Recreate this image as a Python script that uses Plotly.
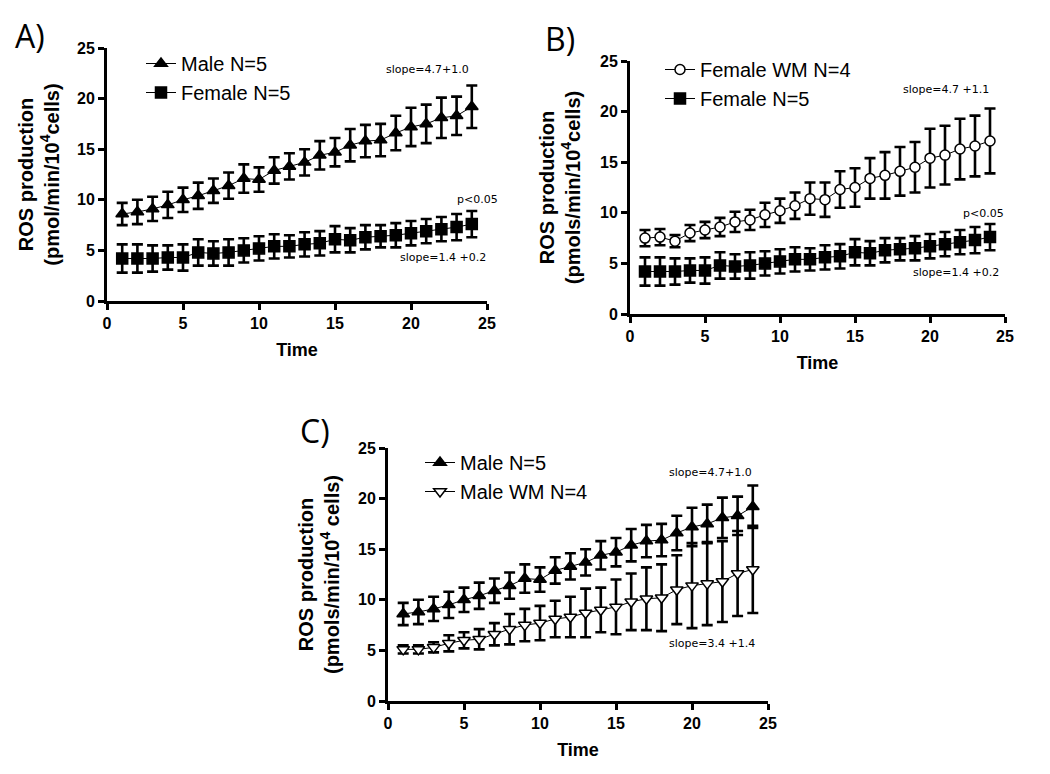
import plotly.graph_objects as go

time = list(range(1, 25))

male = [8.6, 8.8, 9.1, 9.5, 10.0, 10.4, 10.9, 11.4, 12.1, 12.0, 12.9, 13.3,
        13.7, 14.4, 14.7, 15.4, 15.8, 15.9, 16.6, 17.2, 17.5, 18.1, 18.3, 19.2]
male_err = [1.1, 1.2, 1.2, 1.3, 1.2, 1.3, 1.2, 1.3, 1.4, 1.2, 1.3, 1.3,
            1.3, 1.4, 1.4, 1.6, 1.6, 1.6, 1.7, 1.9, 1.9, 2.0, 1.9, 2.1]

female = [4.2, 4.2, 4.2, 4.3, 4.3, 4.8, 4.7, 4.8, 5.0, 5.2, 5.4, 5.4,
          5.6, 5.7, 6.1, 6.0, 6.3, 6.4, 6.5, 6.7, 6.9, 7.1, 7.3, 7.6]
female_err = [1.4, 1.4, 1.3, 1.2, 1.3, 1.3, 1.2, 1.3, 1.2, 1.2, 1.2, 1.1,
              1.2, 1.2, 1.3, 1.2, 1.2, 1.1, 1.2, 1.2, 1.2, 1.2, 1.3, 1.3]

female_wm = [7.5, 7.6, 7.2, 8.0, 8.3, 8.6, 9.1, 9.3, 9.8, 10.2, 10.7, 11.4,
             11.3, 12.3, 12.5, 13.4, 13.7, 14.1, 14.5, 15.4, 15.7, 16.3, 16.6, 17.1]
female_wm_err = [0.8, 0.8, 0.6, 0.8, 0.8, 0.9, 1.0, 1.0, 1.2, 1.2, 1.3, 1.6,
                 1.7, 1.8, 1.9, 2.0, 2.3, 2.4, 2.5, 2.9, 2.9, 3.0, 3.0, 3.2]

male_wm = [5.1, 5.1, 5.3, 5.7, 6.0, 6.1, 6.6, 7.1, 7.5, 7.7, 8.1, 8.3,
           8.7, 9.0, 9.3, 9.8, 10.1, 10.2, 11.0, 11.4, 11.6, 11.8, 12.6, 13.0]
male_wm_err = [0.4, 0.4, 0.5, 0.8, 0.8, 1.0, 1.1, 1.5, 1.6, 1.7, 1.8, 2.0,
               2.4, 2.2, 2.7, 2.8, 3.1, 3.3, 3.4, 4.2, 4.1, 4.0, 4.2, 4.3]

x_title = "Time"
y_title_a = "ROS production<br>(pmol/min/10<sup>4</sup>cells)"
y_title_b = "ROS production<br>(pmols/min/10<sup>4</sup>cells)"
y_title_c = "ROS production<br>(pmols/min/10<sup>4</sup> cells)"

W, H = 1050, 774
fig = go.Figure()

def px(x):
    return x / W

def py(y):
    return 1 - y / H

err_style = dict(type="data", visible=True, color="black", thickness=2.6, width=5.5)

def add_series(name, y, err, symbol, fill, size, xa, ya, legend):
    fig.add_trace(go.Scatter(
        x=time, y=y, name=name, mode="lines+markers",
        xaxis=xa, yaxis=ya, legend=legend,
        line=dict(color="black", width=1),
        marker=dict(symbol=symbol, size=size, color=fill,
                    line=dict(color="black", width=1.5)),
        error_y=dict(array=err, **err_style),
    ))

# Panel A
add_series("Male N=5", male, male_err, "triangle-up", "black", 11, "x", "y", "legend")
add_series("Female N=5", female, female_err, "square", "black", 11, "x", "y", "legend")
# Panel B
add_series("Female WM N=4", female_wm, female_wm_err, "circle", "white", 10, "x2", "y2", "legend2")
add_series("Female N=5", female, female_err, "square", "black", 11, "x2", "y2", "legend2")
# Panel C
add_series("Male N=5", male, male_err, "triangle-up", "black", 11, "x3", "y3", "legend3")
add_series("Male WM N=4", male_wm, male_wm_err, "triangle-down", "white", 11, "x3", "y3", "legend3")

tf = "Liberation Sans, Arial, sans-serif"
tickfont = dict(family=tf, size=16, color="black", weight="bold")
axis_common = dict(range=[0, 25], dtick=5, tick0=0, showgrid=False, zeroline=False,
                   showline=True, linecolor="black", linewidth=3,
                   ticks="outside", ticklen=6, tickwidth=2.5, tickcolor="black",
                   tickfont=tickfont, automargin=False)
xtitle_font = dict(family=tf, size=18, color="black", weight="bold")
ytitle_font = dict(family=tf, size=20, color="black", weight="bold")

panels = {
    "A": dict(x0=107, x1=487, y0=48, y1=301, yt=y_title_a, ys=13),
    "B": dict(x0=630, x1=1005, y0=61, y1=314, yt=y_title_b, ys=15),
    "C": dict(x0=388, x1=768, y0=448, y1=701, yt=y_title_c, ys=14),
}
suffix = {"A": "", "B": "2", "C": "3"}
for k, p in panels.items():
    s = suffix[k]
    fig.update_layout(**{
        "xaxis" + s: dict(domain=[px(p["x0"]), px(p["x1"])], anchor="y" + s,
                          title=dict(text=x_title, font=xtitle_font, standoff=13),
                          **axis_common),
        "yaxis" + s: dict(domain=[py(p["y1"]), py(p["y0"])], anchor="x" + s,
                          title=dict(text=p["yt"], font=ytitle_font, standoff=p["ys"]),
                          **axis_common),
    })

legend_font = dict(family=tf, size=20, color="black")
leg_common = dict(bgcolor="rgba(0,0,0,0)", borderwidth=0, font=legend_font,
                  xanchor="left", yanchor="top", itemwidth=30, tracegroupgap=0,
                  traceorder="normal")
fig.update_layout(
    legend=dict(x=px(141), y=py(44), **leg_common),
    legend2=dict(x=px(660), y=py(50), **leg_common),
    legend3=dict(x=px(420), y=py(443), **leg_common),
)

annots = []
def note(text, x, y, size=11, family="DejaVu Sans, sans-serif"):
    annots.append(dict(text=text, x=px(x), y=py(y), xref="paper", yref="paper",
                       showarrow=False, xanchor="center", yanchor="middle",
                       font=dict(family=family, size=size, color="black")))

# panel labels
lf = "Open Sans, Liberation Sans, sans-serif"
note("A)", 30, 36, size=32, family=lf)
note("B)", 560, 38, size=32, family=lf)
note("C)", 315, 430, size=32, family=lf)

# statistics text
note("slope=4.7+1.0", 427, 70)
note("p<0.05", 477, 200)
note("slope=1.4 +0.2", 443, 257)

note("slope=4.7 +1.1", 946, 90)
note("p<0.05", 983, 213)
note("slope=1.4 +0.2", 956, 273)

note("slope=4.7+1.0", 710, 472)
note("slope=3.4 +1.4", 712, 643)

fig.update_layout(
    width=W, height=H, margin=dict(l=0, r=0, t=0, b=0),
    paper_bgcolor="white", plot_bgcolor="white",
    showlegend=True, annotations=annots,
)

fig.write_html("out.html", config={"displayModeBar": False},
               post_script="document.body.style.margin='0';document.body.style.padding='0';")
